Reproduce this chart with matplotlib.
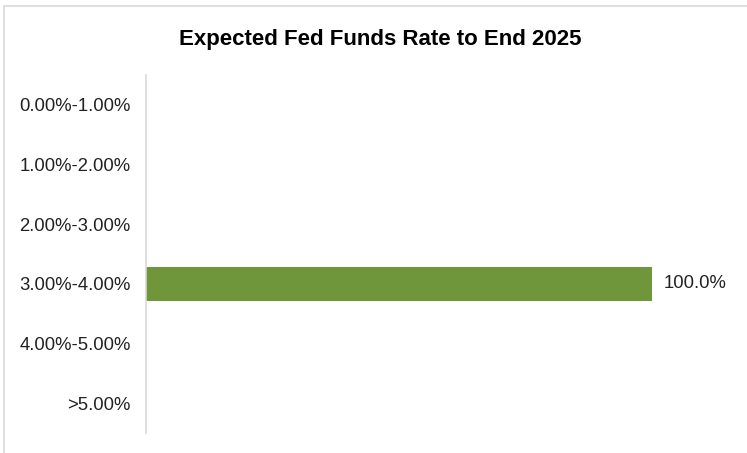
import matplotlib.pyplot as plt
from matplotlib.patches import Rectangle

plt.rcParams['font.family'] = ['Liberation Sans', 'DejaVu Sans']

# -----------------------------
# Data
# -----------------------------
ranges = ["0.00%-1.00%", "1.00%-2.00%", "2.00%-3.00%",
          "3.00%-4.00%", "4.00%-5.00%", ">5.00%"]
probability = [0.0, 0.0, 0.0, 100.0, 0.0, 0.0]

fig = plt.figure(figsize=(7.47, 4.53), dpi=100)

# light outer frame (chart area border)
fig.patches.append(Rectangle((4 / 747, -0.05), 1.1, 1 - 6 / 453 + 0.05,
                             transform=fig.transFigure, fill=False,
                             edgecolor="#d9d9d9", linewidth=1.2))

ax = fig.add_axes([146 / 747, 1 - 433 / 453, 594 / 747, (433 - 75) / 453])

pos = list(range(len(ranges)))
ax.barh(pos, probability, height=0.57, color="#70963c")
ax.set_ylim(len(ranges) - 0.5, -0.5)
ax.set_xlim(0, 100 * 594 / 506)

for p, v in zip(pos, probability):
    if v > 0:
        ax.text(v + 2.2, p, f"{v:.1f}%", va="center", ha="left",
                fontsize=13.3, color="#222222")

ax.set_yticks(pos)
ax.set_yticklabels(ranges, fontsize=13.3, color="#222222")
ax.set_xticks([])
ax.tick_params(axis="y", length=0, pad=11)

for side in ["top", "right", "bottom"]:
    ax.spines[side].set_visible(False)
ax.spines["left"].set_color("#d9d9d9")
ax.spines["left"].set_linewidth(1.2)

fig.text(380 / 747, 1 - 40 / 453, "Expected Fed Funds Rate to End 2025",
         ha="center", va="center", fontsize=16, fontweight="bold")

fig.savefig("out.png", dpi=100)
